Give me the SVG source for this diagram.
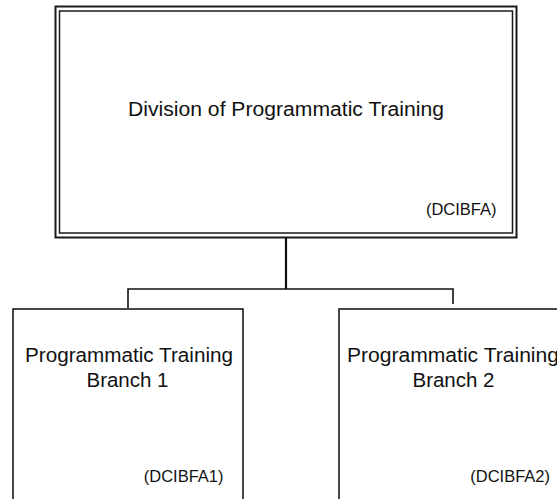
<svg xmlns="http://www.w3.org/2000/svg" width="557" height="499" viewBox="0 0 557 499">
<style>
.box{fill:#fff;stroke:#1a1a1a;stroke-width:1.6}
.t{font-family:"Liberation Sans",Arial,sans-serif;fill:#111;}
.big{font-size:20px;text-anchor:middle}
.br{font-size:20.5px;text-anchor:middle}
.code{font-size:16.5px;text-anchor:end}
.conn{fill:none;stroke:#111;stroke-linejoin:miter}
</style>
<rect width="557" height="499" fill="#fff"/>
<g id="connectors">
<path class="conn" d="M286 237 V289" stroke-width="2.2"/>
<path class="conn" d="M128 308 V289 H453 V304" stroke-width="1.6"/>
</g>
<g id="division">
<rect x="55.5" y="6.5" width="461" height="231" fill="#fff" stroke="#1a1a1a" stroke-width="2"/>
<rect x="59.5" y="11" width="453" height="222" fill="none" stroke="#1a1a1a" stroke-width="1.5"/>
<text class="t big" x="286" y="116" textLength="316" lengthAdjust="spacingAndGlyphs">Division of Programmatic Training</text>
<text class="t code" x="496.5" y="215">(DCIBFA)</text>
</g>
<g id="branch1">
<rect class="box" x="13" y="309" width="230" height="200"/>
<text class="t big" x="129" y="362" textLength="208" lengthAdjust="spacingAndGlyphs">Programmatic Training</text>
<text class="t br" x="127.5" y="387">Branch 1</text>
<text class="t code" x="223.5" y="482">(DCIBFA1)</text>
</g>
<g id="branch2">
<rect class="box" x="339" y="309" width="230" height="200"/>
<text class="t big" x="453" y="362" textLength="212" lengthAdjust="spacingAndGlyphs">Programmatic Training</text>
<text class="t br" x="453.5" y="387">Branch 2</text>
<text class="t code" x="550" y="482">(DCIBFA2)</text>
</g>
</svg>
